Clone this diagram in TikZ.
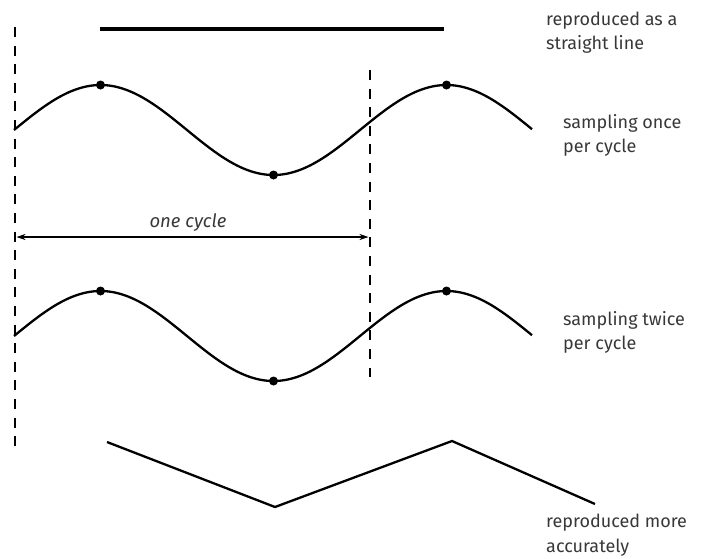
\documentclass[tikz,border=0pt]{standalone}
\usepackage{fontspec}
\setmainfont{Fira Sans}
\usetikzlibrary{arrows.meta}
\definecolor{txt}{HTML}{383838}
\tikzset{
  wave/.style={line width=2.3pt, line join=round},
  guide/.style={line width=2pt, dash pattern=on 10pt off 8.6pt},
  sample/.style={circle, fill=black, inner sep=0pt, minimum size=9pt},
  label/.style={anchor=base west, align=left, text=txt, inner sep=0pt,
    font=\fontsize{18}{24.5}\selectfont},
  span/.style={line width=1.3pt, {Stealth[length=9pt,width=6pt]}-{Stealth[length=9pt,width=6pt]}}
}
\begin{document}
\begin{tikzpicture}[x=1pt,y=-1pt]
\useasboundingbox (0,0) rectangle (703,558);
% guides
\coordinate (gLt) at (14.7,27);
\coordinate (gLb) at (14.7,449);
\coordinate (gRt) at (370.3,70);
\coordinate (gRb) at (370.3,377);
\draw[guide] (gLt) -- (gLb);
\draw[guide] (gRt) -- (gRb);
% straight reproduction
\coordinate (sA) at (100,29);
\coordinate (sB) at (444,29);
\draw[line width=3.4pt] (sA) -- (sB);
% upper wave
\draw[wave] plot[domain=14:532, samples=200, smooth] (\x,{130-45*sin(1.0405*(\x-14))});
\node[sample] (u1) at (100.5,85) {};
\node[sample] (u2) at (273.5,175) {};
\node[sample] (u3) at (446.5,85) {};
% one cycle
\coordinate (aL) at (16.5,237);
\coordinate (aR) at (368.5,237);
\draw[span] (aL) -- (aR);
\node[text=txt, font=\fontsize{18.5}{22}\selectfont\itshape, anchor=base, inner sep=0pt] (cyc) at (188,227) {one cycle};
% lower wave
\draw[wave] plot[domain=14:532, samples=200, smooth] (\x,{336-45*sin(1.0405*(\x-14))});
\node[sample] (l1) at (100.5,291) {};
\node[sample] (l2) at (273.5,381) {};
\node[sample] (l3) at (446.5,291) {};
% zigzag
\coordinate (z1) at (107,442);
\coordinate (z2) at (275,507);
\coordinate (z3) at (452,441);
\coordinate (z4) at (595,504);
\draw[wave, line join=miter] (z1) -- (z2) -- (z3) -- (z4);
% labels (anchor is the baseline of the last line)
\node[label] (t1) at (546,49.5) {reproduced as a\\straight line};
\node[label] (t2) at (563,152.5) {sampling once\\per cycle};
\node[label] (t3) at (563,349.5) {sampling twice\\per cycle};
\node[label] (t4) at (546,552) {reproduced more\\accurately};
\end{tikzpicture}
\end{document}
